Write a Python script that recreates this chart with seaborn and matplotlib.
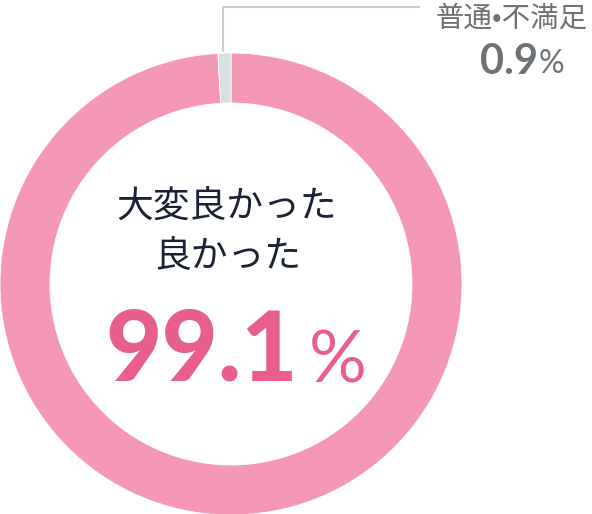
import numpy as np
import matplotlib
matplotlib.use("Agg")
import matplotlib.pyplot as plt
import seaborn as sns

# data
labels = ["大変良かった\n良かった", "普通•不満足"]
values = [99.1, 0.9]
colors = ["#f598b5", "#d9dfe3"]

W, H = 592, 514

sns.set_theme(style="white")
plt.rcParams["font.family"] = ["Noto Sans CJK JP", "DejaVu Sans"]

fig = plt.figure(figsize=(W / 100, H / 100), dpi=100)
ax = fig.add_axes([0, 0, 1, 1])

cx, cy, r = 231, H - 284, 231
wedges, _ = ax.pie(
    values,
    colors=colors,
    startangle=90,
    counterclock=False,
    center=(cx, cy),
    radius=r,
    wedgeprops=dict(width=50, edgecolor="white", linewidth=0.6),
)
ax.set_xlim(0, W)
ax.set_ylim(0, H)
ax.set_aspect("equal")
ax.axis("off")

# leader line from the small slice
w = wedges[1]
mid = np.deg2rad((w.theta1 + w.theta2) / 2)
lx = cx + r * np.cos(mid) - 1
ax.plot([lx, lx, 420], [H - 52, H - 7, H - 7], color="#c8cdd2", lw=1.5,
        solid_capstyle="butt", zorder=0)

# small slice label
ax.text(512, H - 27, labels[1], ha="center", va="baseline", fontsize=20.5,
        color="#6d7276")
ax.text(538, H - 61.5, f"{values[1]}", ha="right", va="center", fontsize=30,
        color="#6d7276", fontweight="bold", family=["Lato", "DejaVu Sans"])
ax.text(539, H - 64, "%", ha="left", va="center", fontsize=23,
        color="#6d7276", family=["Lato", "DejaVu Sans"])

# big slice label in the centre
line1, line2 = labels[0].split("\n")
ax.text(227, H - 206, line1, ha="center", va="center", fontsize=26.5,
        color="#1b2236")
ax.text(228, H - 256, line2, ha="center", va="center", fontsize=26.5,
        color="#1b2236")
ax.text(298, H - 352, f"{values[0]}", ha="right", va="center", fontsize=70,
        color="#e85f8f", fontweight="black", family=["Lato", "DejaVu Sans"])
ax.text(309, H - 362, "%", ha="left", va="center", fontsize=52,
        color="#e85f8f", family=["Lato", "DejaVu Sans"])

fig.savefig("out.png", dpi=100)
